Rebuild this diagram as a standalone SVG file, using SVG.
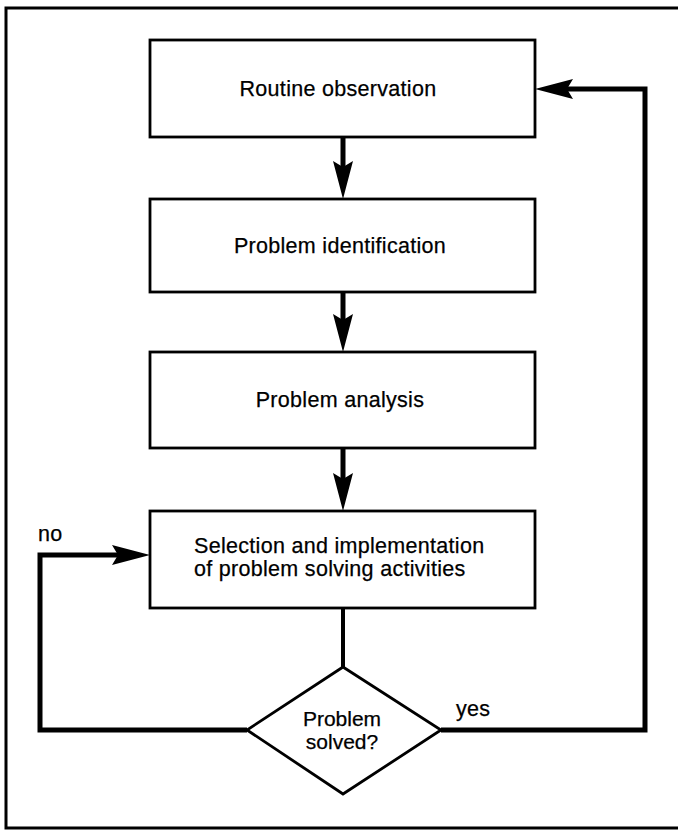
<svg xmlns="http://www.w3.org/2000/svg" width="678" height="830" viewBox="0 0 678 830">
<style>
.box{fill:#fff;stroke:#000;stroke-width:2.8}
.lbl{font-family:"Liberation Sans",Arial,sans-serif;font-size:21.5px;letter-spacing:0.3px;fill:#000;stroke:#000;stroke-width:0.25}
.sm{font-size:21px;letter-spacing:0}
.c{text-anchor:middle}
.conn{fill:none;stroke:#000;stroke-width:5;stroke-linejoin:miter}
.thin{fill:none;stroke:#000;stroke-width:4}
.frame{fill:none;stroke:#000;stroke-width:3}
</style>
<defs>
<marker id="ah" markerUnits="userSpaceOnUse" markerWidth="40" markerHeight="24" refX="6" refY="0" orient="auto" overflow="visible">
<path d="M0,-10 L38,0 L0,10 L6,0 Z" fill="#000"/>
</marker>
</defs>
<rect width="678" height="830" fill="#fff"/>
<path class="frame" d="M690,8 H6 V828 H690"/>
<g id="connectors">
<path class="conn" d="M343,137 V167" marker-end="url(#ah)"/>
<path class="conn" d="M343,292 V320" marker-end="url(#ah)"/>
<path class="conn" d="M343,448 V479" marker-end="url(#ah)"/>
<path class="thin" d="M343,608 V667"/>
<path class="conn" d="M247,730 H40 V555 H118" marker-end="url(#ah)"/>
<path class="conn" d="M441,730 H645 V89 H567" marker-end="url(#ah)"/>
<text class="lbl" x="38" y="541">no</text>
<text class="lbl" x="456" y="716">yes</text>
</g>
<g id="routine-observation">
<rect class="box" x="150" y="40" width="385" height="97"/>
<text class="lbl c" x="338" y="96">Routine observation</text>
</g>
<g id="problem-identification">
<rect class="box" x="150" y="199" width="385" height="93"/>
<text class="lbl c" x="340" y="253">Problem identification</text>
</g>
<g id="problem-analysis">
<rect class="box" x="150" y="352" width="385" height="96"/>
<text class="lbl c" x="340" y="407">Problem analysis</text>
</g>
<g id="selection-implementation">
<rect class="box" x="150" y="511" width="385" height="97"/>
<text class="lbl" x="194" y="553">Selection and implementation</text>
<text class="lbl" x="194" y="576">of problem solving activities</text>
</g>
<g id="problem-solved">
<polygon class="box" points="343,667 441,730 343,794 247,730"/>
<text class="lbl sm c" x="342" y="726">Problem</text>
<text class="lbl sm c" x="342" y="749">solved?</text>
</g>
</svg>
